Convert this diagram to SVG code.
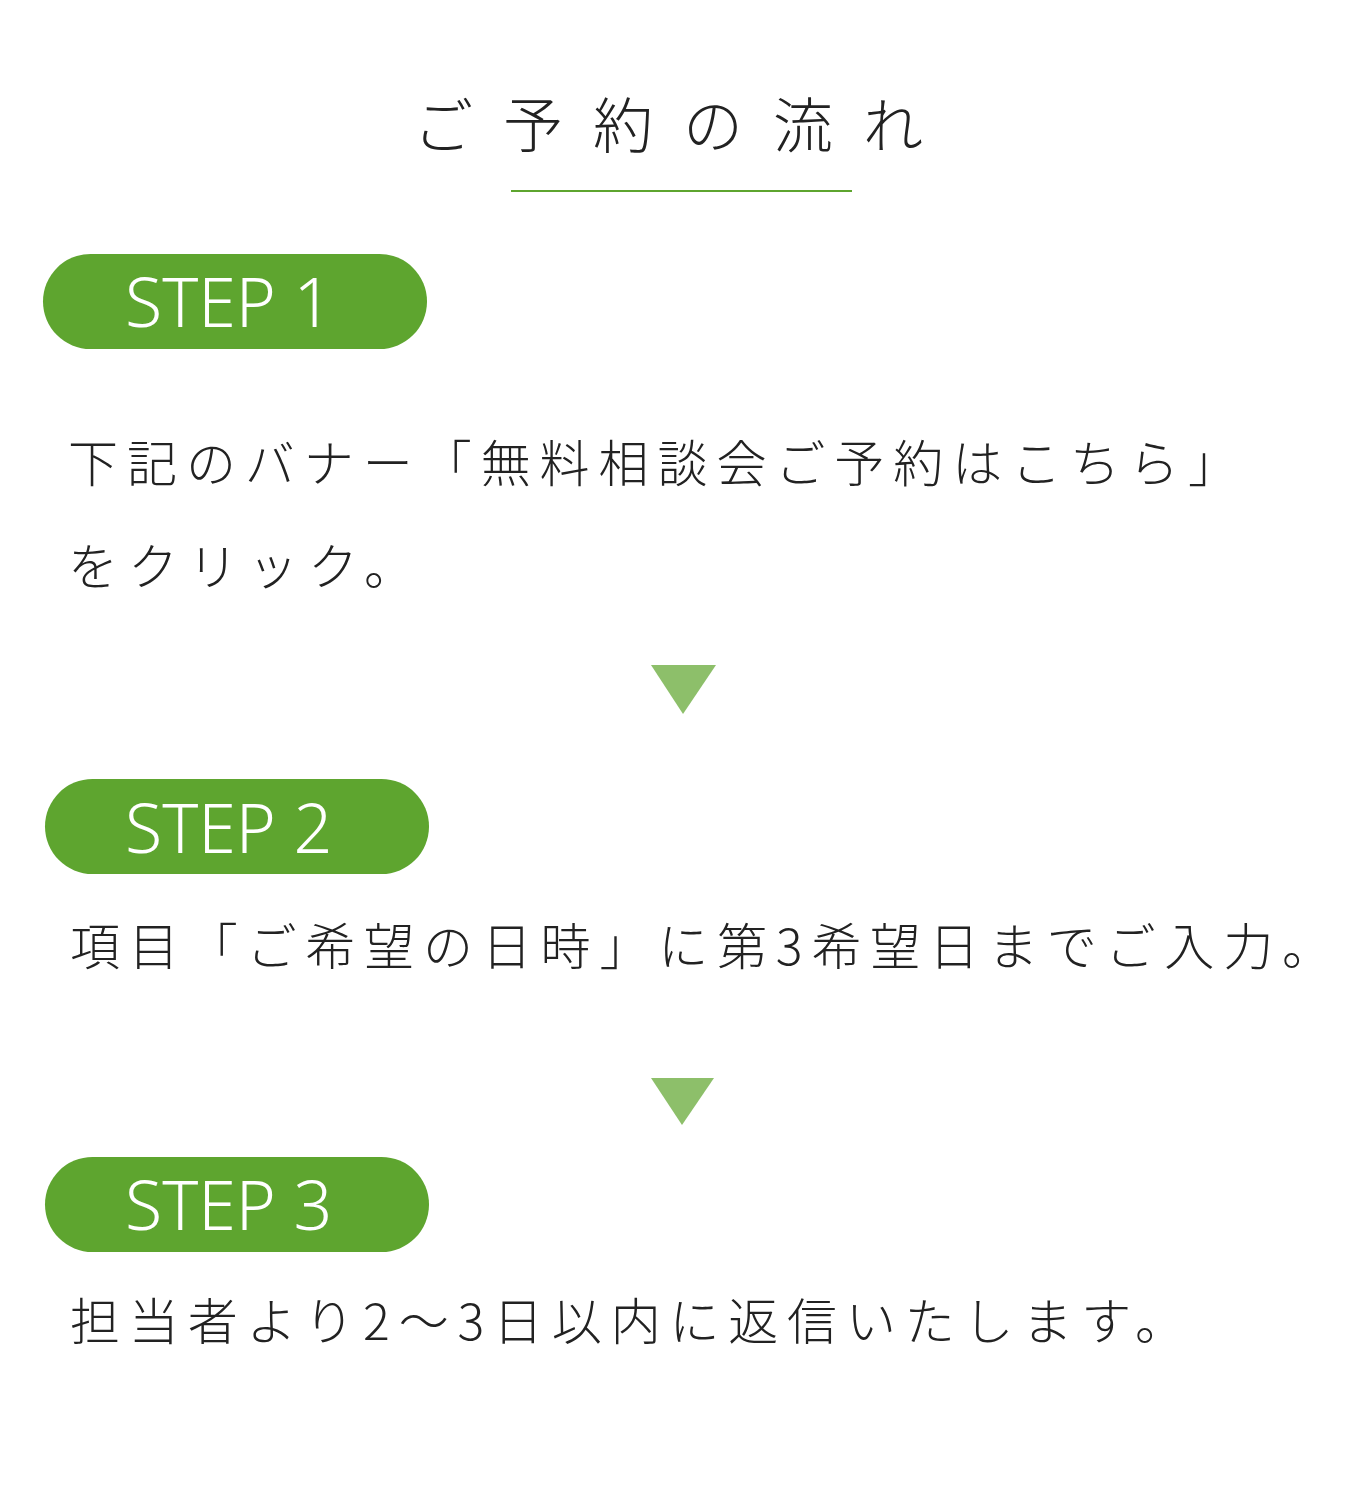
<svg xmlns="http://www.w3.org/2000/svg" width="1366" height="1500" viewBox="0 0 1366 1500">
<style>
.t{font-family:"Noto Sans CJK JP","Noto Sans",sans-serif;font-weight:300;fill:#222}
.pill{fill:#5ea52f}
.pt{font-family:"Noto Sans","Noto Sans CJK JP",sans-serif;font-weight:300;fill:#fff;font-size:68px}
.tri{fill:#8dbf6a}
</style>
<rect width="1366" height="1500" fill="#fff"/>
<g id="title">
<text class="t" x="683" y="148" font-size="60" text-anchor="middle" letter-spacing="30">ご予約の流れ</text>
<line x1="511" y1="191" x2="852" y2="191" stroke="#5ea52f" stroke-width="2"/>
</g>
<g id="step1">
<rect class="pill" x="43" y="254" width="384" height="95" rx="47.5"/>
<text class="pt" x="125" y="327">STEP 1</text>
<text class="t" x="68" y="482" font-size="50" textLength="1170" lengthAdjust="spacing">下記のバナー「無料相談会ご予約はこちら」</text>
<text class="t" x="68" y="585" font-size="50" letter-spacing="10">をクリック。</text>
</g>
<g id="step2">
<rect class="pill" x="45" y="779" width="384" height="95" rx="47.5"/>
<text class="pt" x="125" y="853">STEP 2</text>
<text class="t" x="70" y="965" font-size="50" textLength="1262" lengthAdjust="spacing">項目「ご希望の日時」に第3希望日までご入力。</text>
</g>
<g id="step3">
<rect class="pill" x="45" y="1157" width="384" height="95" rx="47.5"/>
<text class="pt" x="125" y="1230">STEP 3</text>
<text class="t" x="70" y="1340" font-size="50" textLength="1115" lengthAdjust="spacing">担当者より2〜3日以内に返信いたします。</text>
</g>
<g id="connectors">
<polygon class="tri" points="651,665 716,665 683,714"/>
<polygon class="tri" points="651,1078 714,1078 682,1125"/>
</g>
</svg>
